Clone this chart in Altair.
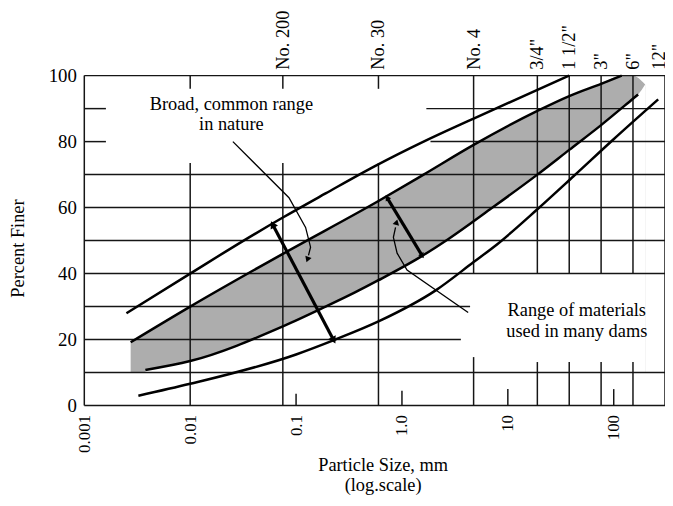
import altair as alt
import pandas as pd

# ---------------- axis ticks / labels ----------------
x_ticks = [0.001, 0.01, 0.1, 1, 10, 100]
x_tick_labels = ["0.001", "0.01", "0.1", "1.0", "10", "100"]
y_ticks = [0, 20, 40, 60, 80, 100]

sieve_mm = [0.075, 0.6, 4.75, 19, 38, 76, 152, 305]
sieve_names = ["No. 200", "No. 30", "No. 4", '3/4"', '1 1/2"', '3"', '6"', '12"']

# ---------------- curves (particle size mm, percent finer) ----------------
# upper bound of the broad natural range
uo_x = [0.0025, 0.01, 0.032, 0.075, 0.19, 0.55, 1.6, 4.75, 38]
uo_y = [28, 40, 50, 57, 64.3, 72.5, 80, 87, 100]
# upper edge of dam-material band
bu_x = [0.00274, 0.01, 0.075, 0.6, 1.6, 4.75, 19, 38, 76, 119]
bu_y = [19.2, 30, 46, 62, 70, 79, 89.3, 93.8, 97.5, 100]
band_tip_x = [150, 198]
band_tip_y = [100, 97.3]
# lower edge of dam-material band
bl_x = [0.00377, 0.01, 0.075, 0.19, 0.36, 0.6, 1.54, 2.75, 6.8, 19, 38, 76, 152, 170]
bl_y = [10.8, 13.5, 24, 30, 34.3, 38, 45.3, 50.5, 59.5, 70, 77.5, 85, 93, 94.3]
mask_tip_x = [198]
mask_tip_y = [97.3]
# lower bound of the broad natural range
lo_x = [0.00324, 0.01, 0.1, 0.234, 0.6, 2.1, 4.75, 8, 19, 41.7, 98, 263]
lo_y = [3, 6.6, 15.5, 20, 25.5, 35, 43.5, 49, 59.5, 69.5, 80.5, 92.8]

# ---------------- chart grid (as printed) ----------------
h_y = [100, 90, 90, 80, 80, 70, 60, 50, 40, 30, 20, 10, 0]
h_x1 = [0.001, 0.001, 1.7, 0.001, 1.86, 0.001, 0.001, 0.001, 0.001, 0.001, 0.001, 0.001, 0.001]
h_x2 = [305, 0.0016, 305, 0.0016, 305, 305, 305, 305, 305, 4.4, 3.6, 305, 305]

v_x = [0.001, 0.01, 0.01, 0.075, 0.075, 0.1, 0.6, 0.6, 1, 4.75, 4.75, 10,
       19, 19, 38, 38, 76, 76, 100, 152, 152, 305]
v_y1 = [0, 0, 96, 0, 96, 0, 0, 96, 0, 40, 0, 0, 40, 0, 40, 0, 40, 0, 0, 40, 0, 0]
v_y2 = [100, 73.5, 100, 73.5, 100, 3.6, 73.5, 100, 4.5, 100, 14.7, 5,
        100, 13.2, 100, 13.2, 100, 13.2, 5, 100, 13.2, 100]

# ---------------- annotations ----------------
ann_text = ["Broad, common range", "in nature", "Range of materials", "used in many dams"]
ann_x = [0.0245, 0.0245, 44.8, 44.8]
ann_y = [91.3, 85.3, 29.1, 22.5]

span_id = ["a", "a", "b", "b"]
span_x = [0.0608, 0.224, 0.73, 1.54]
span_y = [54.6, 20.1, 62.8, 45.6]

lead_id = ["l1"] * 5 + ["l2"] * 5
lead_x = [0.0253, 0.0857, 0.123, 0.137, 0.131, 4.22, 1.117, 0.9, 0.83, 0.87]
lead_y = [80, 63, 54, 48, 45.5, 28.2, 41.1, 46.2, 51, 54]

head_x = [0.0608, 0.224, 0.73, 1.54, 0.129, 0.885]
head_y = [54.6, 20.1, 62.8, 45.6, 44.5, 55.3]
head_angle = [332, 152, 328, 148, 200, 15]
head_size = [70, 70, 40, 40, 45, 45]

# ---------------- build tables ----------------
FONT = "Liberation Serif"
INK = "#151515"

label_expr = "''"
for v, lab in reversed(list(zip(x_ticks, x_tick_labels))):
    label_expr = f"abs(datum.value - {v}) < {v * 0.01} ? '{lab}' : " + label_expr

xscale = alt.Scale(type="log", domain=[0.001, 305], nice=False)
yscale = alt.Scale(domain=[0, 100], nice=False, zero=False)

x_axis = alt.Axis(values=x_ticks, labelExpr=label_expr, labelAngle=270, labelFont=FONT,
                  labelFontSize=17, labelColor="black", labelPadding=9, ticks=False,
                  domain=False, grid=False, title=["Particle Size, mm", "(log.scale)"],
                  titleFont=FONT, titleFontSize=18.5, titleFontWeight="normal",
                  titleColor="black", titleX=301, titleY=50, titleAlign="center",
                  titleBaseline="top", titleLineHeight=21)
y_axis = alt.Axis(values=y_ticks, labelFont=FONT, labelFontSize=19, labelColor="black",
                  labelPadding=8, ticks=False, domain=False, grid=False,
                  title="Percent Finer", titleFont=FONT, titleFontSize=18.5,
                  titleFontWeight="normal", titleColor="black", titleX=-67, titleY=174,
                  titleAngle=270, titleAlign="center", titleBaseline="middle")


def X(f="x"):
    return alt.X(f + ":Q", scale=xscale, axis=x_axis)


def Y(f="y"):
    return alt.Y(f + ":Q", scale=yscale, axis=y_axis)


band_df = pd.DataFrame({"x": bu_x + band_tip_x, "y": bu_y + band_tip_y})
mask_df = pd.DataFrame({"x": bl_x + mask_tip_x, "y": bl_y + mask_tip_y})

curves_df = pd.concat([
    pd.DataFrame({"x": uo_x, "y": uo_y, "c": "uo"}),
    pd.DataFrame({"x": bu_x, "y": bu_y, "c": "bu"}),
    pd.DataFrame({"x": bl_x, "y": bl_y, "c": "bl"}),
    pd.DataFrame({"x": lo_x, "y": lo_y, "c": "lo"}),
])

h_df = pd.DataFrame({"x": h_x1, "x2": h_x2, "y": h_y})
v_df = pd.DataFrame({"x": v_x, "y": v_y1, "y2": v_y2})
ann_df = pd.DataFrame({"x": ann_x, "y": ann_y, "t": ann_text})
span_df = pd.DataFrame({"x": span_x, "y": span_y, "g": span_id})
lead_df = pd.DataFrame({"x": lead_x, "y": lead_y, "g": lead_id, "i": list(range(len(lead_x)))})
head_df = pd.DataFrame({"x": head_x, "y": head_y, "a": head_angle, "s": head_size})
sieve_df = pd.DataFrame({"x": sieve_mm, "t": sieve_names})

band = alt.Chart(band_df).mark_area(color="#adadad", interpolate="monotone").encode(
    x=X(), y=Y(), y2=alt.datum(10))
mask = alt.Chart(mask_df).mark_area(color="white", interpolate="monotone").encode(
    x=X(), y=Y(), y2=alt.datum(10))

hgrid = alt.Chart(h_df).mark_rule(color=INK, strokeWidth=1.5).encode(
    x=X(), x2="x2:Q", y=Y())
vgrid = alt.Chart(v_df).mark_rule(color=INK, strokeWidth=1.5).encode(
    x=X(), y=Y(), y2="y2:Q")

curves = alt.Chart(curves_df).mark_line(color="black", strokeWidth=2.5,
                                        interpolate="monotone").encode(
    x=X(), y=Y(), detail="c:N")

spans = alt.Chart(span_df).mark_line(color="black", strokeWidth=3.2).encode(
    x=X(), y=Y(), detail="g:N")
leads = alt.Chart(lead_df).mark_line(color="black", strokeWidth=1.3).encode(
    x=X(), y=Y(), detail="g:N", order="i:Q")
heads = alt.Chart(head_df).mark_point(shape="triangle", filled=True, color="black",
                                      opacity=1).encode(
    x=X(), y=Y(), angle=alt.Angle("a:Q", scale=None), size=alt.Size("s:Q", scale=None))

ann = alt.Chart(ann_df).mark_text(font=FONT, fontSize=18.5, color="black",
                                  align="center", baseline="middle").encode(
    x=X(), y=Y(), text="t:N")

top = alt.Chart(sieve_df.iloc[:-1]).mark_text(font=FONT, fontSize=18.5, color="black",
                                              angle=270, align="left",
                                              baseline="middle").encode(
    x=X(), y=alt.value(-6), text="t:N")
top_last = alt.Chart(sieve_df.iloc[-1:]).mark_text(font=FONT, fontSize=18.5, color="black",
                                                   angle=270, align="left",
                                                   baseline="middle", dy=-6).encode(
    x=X(), y=alt.value(-6), text="t:N")

chart = alt.layer(band, mask, hgrid, vgrid, curves, spans, leads, heads, ann, top,
                  top_last).properties(
    width=586, height=333,
    autosize=alt.AutoSizeParams(type="none"),
    padding={"left": 77, "top": 66, "right": 0, "bottom": 91},
    background="white",
).configure_view(stroke=None)

chart.save("out.html", embed_options={"renderer": "svg", "actions": False})
